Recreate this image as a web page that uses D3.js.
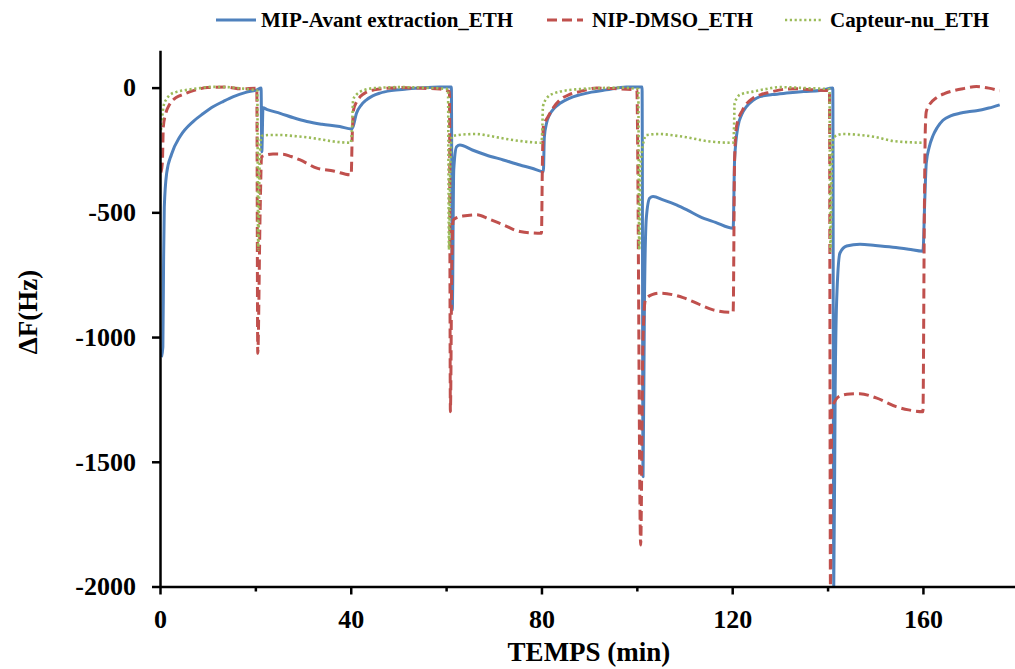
<!DOCTYPE html>
<html>
<head>
<meta charset="utf-8">
<script src="https://cdn.jsdelivr.net/npm/d3@7"></script>
<style>
  html, body { margin: 0; padding: 0; background: #fff; }
  svg { display: block; }
</style>
</head>
<body>
<svg id="chart" width="1015" height="669"></svg>
<script>
// ---- Data (time in min, ΔF in Hz) ----
const seriesNames = ["MIP-Avant extraction_ETH", "NIP-DMSO_ETH", "Capteur-nu_ETH"];

const mipData = [
  [0.3,-1080],[0.6,-1040],[0.75,-700],[0.9,-480],[1.4,-343],[2.4,-268],[4.2,-196],[7,-135],[9,-105],[11.2,-76],[13.3,-55],[15.4,-36],[18,-19],[20.3,-9],[21.2,-2],
  [21.35,-257],[21.6,-81],[22.5,-88],[25.2,-103],[28,-121],[30.8,-136],[34,-147],[37.7,-156],[40.2,-166],
  [40.5,-156],[41.2,-103],[42.2,-70],[43.3,-49],[44.6,-33],[46.1,-22],[48.5,-12],[51.7,-6],[55,-1],[58.7,2],[61.1,2],
  [61.3,-891],[61.6,-330],[62.2,-237],[62.9,-230],[65.5,-250],[68.4,-270],[72,-290],[75.5,-310],[78,-323],[80.4,-337],
  [80.6,-200],[81.1,-140],[81.7,-109],[82.7,-82],[83.9,-63],[85.7,-44],[88,-29],[90.5,-18],[93.6,-9],[97.8,2],[101.1,2],
  [101.3,-1560],[101.6,-850],[102,-520],[102.7,-443],[103.4,-437],[105.5,-450],[108.3,-470],[110.7,-492],[113.2,-517],[116.5,-540],[120.2,-564],
  [120.5,-290],[121.2,-156],[122,-108],[123,-76],[124.3,-52],[125.8,-36],[128.4,-28],[131.4,-22],[135,-16],[138.4,-12],[141.1,-2],
  [141.3,-2000],[141.6,-1200],[141.9,-857],[142.6,-663],[144,-635],[146.8,-628],[150,-633],[153.7,-640],[157,-648],[160,-656],
  [160.4,-443],[160.7,-303],[161.3,-240],[162.1,-193],[163,-160],[164.2,-131],[165.8,-113],[167.7,-103],[169.5,-97],[171.2,-93],[173.8,-82],[176.1,-69]
];

const nipData = [
  [0.2,-340],[0.5,-300],[0.7,-156],[1.2,-105],[2,-68],[3,-45],[4.2,-32],[5.5,-22],[7,-12],[10,0],[13.9,2],[17,-5],[20.3,-2],
  [20.5,-1065],[21,-500],[21.3,-277],[23.7,-266],[25.8,-267],[27.5,-276],[29.4,-290],[32.9,-323],[36.4,-334],[40.1,-350],
  [40.3,-200],[40.6,-89],[41.2,-58],[42,-36],[43.3,-18],[44.9,-9],[47.5,-3],[50.5,0],[54,-2],[58.7,-6],[60.7,-16],
  [60.9,-1299],[61.2,-700],[61.5,-530],[63.5,-515],[66.4,-510],[69,-527],[72,-550],[75.5,-577],[80,-584],
  [80.2,-300],[80.4,-156],[81.4,-116],[82.5,-80],[83.9,-49],[85.8,-28],[88,-16],[91.6,-2],[95,-4],[100,-9],
  [100.8,-1834],[101.3,-1000],[101.8,-851],[103.2,-830],[104.9,-824],[107.7,-831],[109.7,-842],[111.8,-858],[116,-891],[120.2,-901],
  [120.5,-290],[120.9,-156],[122.2,-89],[124.3,-43],[126,-28],[127.8,-19],[131.3,-6],[134,-5],[136.9,-9],[140.4,-12],
  [140.6,-2000],[140.9,-1286],[142.6,-1236],[144.7,-1228],[146.8,-1227],[150.2,-1244],[154.4,-1279],[157,-1292],[160,-1299],
  [160.3,-500],[160.5,-166],[160.7,-96],[161.5,-65],[162.8,-41],[164.5,-24],[166.3,-13],[168.5,-4],[171.2,4],[173.8,-2],[176.1,-13]
];

const nuData = [
  [0.2,-170],[0.5,-110],[0.8,-70],[1.4,-45],[2.1,-29],[3.5,-17],[5.6,-9],[8.4,-2],[10.5,3],[13.9,2],[17,-3],[19.6,-9],
  [20.4,-12],[20.6,-650],[20.9,-300],[21.3,-194],[23,-190],[25.2,-190],[28,-194],[30.8,-199],[33.5,-207],[36.4,-216],[40,-221],
  [40.3,-150],[40.5,-49],[41.2,-28],[42,-16],[43.3,-7],[44.9,-2],[50.5,2],[55,0],[60.4,-6],
  [60.6,-650],[60.9,-300],[61.2,-196],[63.5,-188],[66.2,-186],[69,-193],[71.8,-203],[75.5,-214],[80,-221],
  [80.2,-150],[80.3,-76],[81.4,-36],[82.5,-24],[83.9,-16],[88,-6],[92,-2],[96.4,0],[100.3,-6],
  [100.5,-650],[100.8,-300],[102,-190],[104.8,-186],[107.5,-191],[110.4,-199],[115.3,-216],[120.2,-221],
  [120.4,-150],[120.5,-63],[121.6,-29],[124.3,-16],[127,-6],[129.9,2],[135.5,-2],[140.4,-6],
  [140.6,-655],[140.9,-300],[141.2,-200],[143.2,-186],[146.8,-190],[150,-198],[153.7,-214],[157,-219],[160,-221]
];

const xMajorTicks = [0, 40, 80, 120, 160];
const xMinorTicks = [20, 60, 100, 140];
const yTicks = [0, -500, -1000, -1500, -2000];
const xTitle = "TEMPS (min)";
const yTitle = "ΔF(Hz)";

// ---- Layout ----
const FONT = "'Liberation Serif', 'Times New Roman', 'DejaVu Serif', serif";
const svg = d3.select("#chart");
const x = d3.scaleLinear().domain([0, 180]).range([160, 1018.3]);
const y = d3.scaleLinear().domain([-2000, 150]).range([586.5, 50.2]);

const series = [
  { name: seriesNames[0], data: mipData, color: "#4F81BD", dash: null, width: 3 },
  { name: seriesNames[1], data: nipData, color: "#C0504D", dash: "10,5", width: 3 },
  { name: seriesNames[2], data: nuData, color: "#9BBB59", dash: "2.2,2.6", width: 2.6 }
];

function styleText(sel, size) {
  sel.style("font-family", FONT)
     .style("font-weight", "bold")
     .style("font-size", size + "px")
     .style("fill", "#000");
}

// clip
svg.append("clipPath").attr("id", "plotclip")
  .append("rect").attr("x", 160).attr("y", 50).attr("width", 860).attr("height", 537.5);

const line = d3.line()
  .x(d => x(d[0]))
  .y(d => y(d[1]))
  .curve(d3.curveMonotoneX);

const plot = svg.append("g").attr("clip-path", "url(#plotclip)");
series.forEach(s => {
  plot.append("path")
    .datum(s.data)
    .attr("fill", "none")
    .attr("stroke", s.color)
    .attr("stroke-width", s.width)
    .attr("stroke-linejoin", "round")
    .attr("stroke-dasharray", s.dash)
    .attr("d", line);
});

// ---- Axes ----
const yAxis = svg.append("g").attr("transform", "translate(160,0)")
  .call(d3.axisLeft(y).tickValues(yTicks).tickSize(8).tickSizeOuter(0).tickPadding(16).tickFormat(d => String(d)));
yAxis.select(".domain").attr("stroke-width", 2.5);
yAxis.selectAll(".tick line").attr("stroke-width", 2.5);
styleText(yAxis.selectAll(".tick text"), 26);

const xMinor = svg.append("g").attr("transform", "translate(0,586.5)")
  .call(d3.axisBottom(x).tickValues(xMinorTicks).tickSize(5).tickSizeOuter(0).tickFormat(""));
xMinor.select(".domain").remove();
xMinor.selectAll(".tick line").attr("stroke-width", 2.5);

const xAxis = svg.append("g").attr("transform", "translate(0,586.5)")
  .call(d3.axisBottom(x).tickValues(xMajorTicks).tickSize(8).tickSizeOuter(0).tickPadding(15).tickFormat(d => String(d)));
xAxis.select(".domain").attr("stroke-width", 2.5);
xAxis.selectAll(".tick line").attr("stroke-width", 2.5);
styleText(xAxis.selectAll(".tick text"), 26);

// axis titles
styleText(svg.append("text")
  .attr("x", 589).attr("y", 661)
  .attr("text-anchor", "middle")
  .text(xTitle), 27);

styleText(svg.append("text")
  .attr("transform", "translate(37,312) rotate(-90)")
  .attr("text-anchor", "middle")
  .text(yTitle), 27);

// ---- Legend ----
const legendPos = [
  { x0: 216, x1: 256, tx: 261 },
  { x0: 547, x1: 583, tx: 592 },
  { x0: 785, x1: 822, tx: 830 }
];
series.forEach((s, i) => {
  const p = legendPos[i];
  svg.append("line")
    .attr("x1", p.x0).attr("x2", p.x1).attr("y1", 20).attr("y2", 20)
    .attr("stroke", s.color).attr("stroke-width", s.width)
    .attr("stroke-dasharray", s.dash);
  styleText(svg.append("text")
    .attr("x", p.tx).attr("y", 27)
    .text(s.name), 21);
});
</script>
</body>
</html>
